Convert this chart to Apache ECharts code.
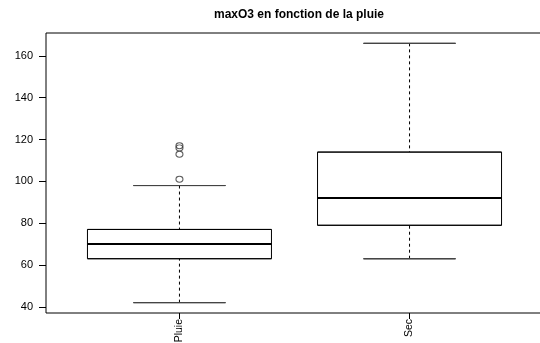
<!DOCTYPE html>
<html>
<head>
<meta charset="utf-8">
<script src="https://cdn.jsdelivr.net/npm/echarts@6/dist/echarts.min.js"></script>
<style>
html,body{margin:0;padding:0;background:#fff;}
#chart{width:540px;height:343px;}
</style>
</head>
<body>
<div id="chart"></div>
<script>
// ---- data ----
var categories = ['Pluie', 'Sec'];
var whiskerLow = [42, 63];
var q1 = [63, 79];
var median = [70, 92];
var q3 = [77, 114];
var whiskerHigh = [98, 166];
var outliersPluie = [101, 113, 116, 117];
var outliersSec = [];
var yTicks = [40, 60, 80, 100, 120, 140, 160];
var titleText = 'maxO3 en fonction de la pluie';

// ---- build ----
var font = 'Liberation Sans, Arial, Helvetica, sans-serif';
var pos = categories.map(function (c, i) { return i + 1; });
var whiskerData = pos.map(function (x, i) { return [x, whiskerLow[i], q1[i], median[i], q3[i], whiskerHigh[i]]; });
var capData = [];
pos.forEach(function (x, i) {
  [whiskerLow[i], whiskerHigh[i]].forEach(function (v) { capData.push([x, v, v, v, v, v]); });
});
var boxData = pos.map(function (x, i) { return [x, q1[i], q1[i], median[i], q3[i], q3[i]]; });
var medData = pos.map(function (x, i) { var m = median[i]; return [x, m, m, m, m, m]; });
var outData = [];
outliersPluie.forEach(function (v) { outData.push([1, v]); });
outliersSec.forEach(function (v) { outData.push([2, v]); });

var yMin = 37.04, yMax = 170.96;
var xMin = 0.42, xMax = 2.58;

function xAxisCfg(show) {
  return {
    type: 'value', min: xMin, max: xMax, show: show,
    splitLine: { show: false },
    axisLine: { show: false },
    axisTick: { show: show, length: 6, customValues: pos, lineStyle: { color: '#000', width: 1 } },
    axisLabel: {
      show: show, customValues: pos, rotate: 90, margin: 6,
      fontSize: 10.5, color: '#000', fontFamily: font,
      formatter: function (v) { return categories[Math.round(v) - 1] || ''; }
    }
  };
}

var chart = echarts.init(document.getElementById('chart'), null, { renderer: 'canvas' });
chart.setOption({
  animation: false,
  backgroundColor: '#fff',
  title: {
    text: titleText, left: 294, textAlign: 'center', top: 4,
    textStyle: { fontSize: 12, fontWeight: 'bold', color: '#000', fontFamily: font }
  },
  grid: {
    left: 46, right: -3, top: 33, bottom: 30,
    outerBoundsMode: 'none', containLabel: false,
    show: true, borderColor: '#000', borderWidth: 1, backgroundColor: 'transparent'
  },
  xAxis: [xAxisCfg(true), xAxisCfg(false), xAxisCfg(false), xAxisCfg(false)],
  yAxis: {
    type: 'value', min: yMin, max: yMax,
    splitLine: { show: false },
    axisLine: { show: false },
    axisTick: { show: true, length: 7, customValues: yTicks, lineStyle: { color: '#000' } },
    axisLabel: { customValues: yTicks, margin: 13, fontSize: 11, color: '#000', fontFamily: font }
  },
  series: [
    {
      type: 'boxplot', xAxisIndex: 0, data: whiskerData, boxWidth: [0, 0], z: 2,
      itemStyle: { color: 'transparent', borderColor: '#000', borderWidth: 1, borderType: [3, 3] },
      emphasis: { disabled: true }, silent: true
    },
    {
      type: 'boxplot', xAxisIndex: 1, data: capData, boxWidth: [92, 92], z: 2,
      itemStyle: { color: 'transparent', borderColor: '#444', borderWidth: 0.7 },
      emphasis: { disabled: true }, silent: true
    },
    {
      type: 'boxplot', xAxisIndex: 2, data: boxData, boxWidth: [184, 184], z: 3,
      itemStyle: { color: '#fff', borderColor: '#000', borderWidth: 1 },
      emphasis: { disabled: true }, silent: true
    },
    {
      type: 'boxplot', xAxisIndex: 3, data: medData, boxWidth: [184, 184], z: 4,
      itemStyle: { color: 'transparent', borderColor: '#000', borderWidth: 2 },
      emphasis: { disabled: true }, silent: true
    },
    {
      type: 'scatter', xAxisIndex: 0, data: outData, symbol: 'circle', symbolSize: [7, 6], z: 5,
      itemStyle: { color: 'transparent', borderColor: '#333', borderWidth: 1 },
      emphasis: { disabled: true }, silent: true
    }
  ]
});
</script>
</body>
</html>
